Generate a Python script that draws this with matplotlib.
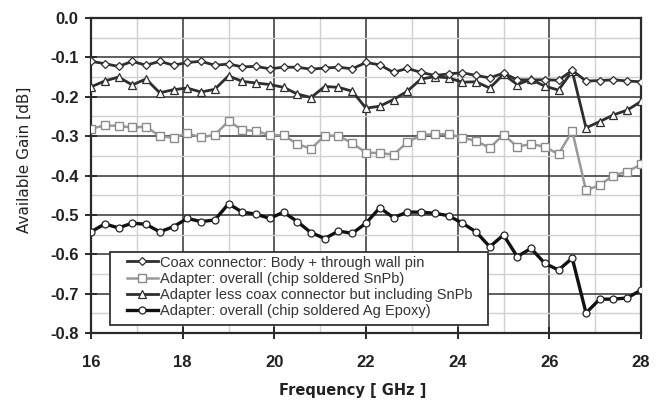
import numpy as np
import matplotlib
matplotlib.use("Agg")
import matplotlib.pyplot as plt
from matplotlib.ticker import MultipleLocator
from matplotlib.patches import Rectangle

plt.rcParams['font.family'] = ['Liberation Sans', 'DejaVu Sans']

freq = [16.0 + 0.3 * k for k in range(41)]

coax = [-0.110, -0.116, -0.123, -0.110, -0.120, -0.110, -0.120, -0.113, -0.110, -0.120,
        -0.117, -0.124, -0.123, -0.129, -0.125, -0.125, -0.130, -0.127, -0.125, -0.129,
        -0.113, -0.119, -0.138, -0.128, -0.138, -0.146, -0.142, -0.139, -0.146, -0.152,
        -0.140, -0.157, -0.157, -0.157, -0.158, -0.133, -0.160, -0.159, -0.157, -0.160,
        -0.162]

snpb = [-0.281, -0.273, -0.274, -0.278, -0.276, -0.300, -0.304, -0.293, -0.303, -0.297,
        -0.262, -0.284, -0.287, -0.297, -0.298, -0.320, -0.332, -0.299, -0.299, -0.318,
        -0.342, -0.343, -0.347, -0.316, -0.297, -0.295, -0.295, -0.304, -0.312, -0.330,
        -0.296, -0.327, -0.320, -0.327, -0.346, -0.287, -0.438, -0.424, -0.400, -0.390,
        -0.372]

less_coax = [-0.175, -0.160, -0.150, -0.170, -0.155, -0.190, -0.182, -0.178, -0.188, -0.181,
             -0.147, -0.161, -0.165, -0.169, -0.176, -0.193, -0.202, -0.174, -0.176, -0.186,
             -0.229, -0.224, -0.207, -0.186, -0.155, -0.149, -0.152, -0.163, -0.162, -0.178,
             -0.143, -0.169, -0.156, -0.173, -0.183, -0.135, -0.279, -0.263, -0.246, -0.234,
             -0.212]

epoxy = [-0.543, -0.523, -0.533, -0.521, -0.524, -0.543, -0.530, -0.509, -0.517, -0.513,
         -0.472, -0.493, -0.498, -0.509, -0.493, -0.517, -0.545, -0.560, -0.541, -0.547,
         -0.521, -0.482, -0.507, -0.493, -0.493, -0.496, -0.502, -0.521, -0.543, -0.581,
         -0.551, -0.606, -0.585, -0.623, -0.640, -0.610, -0.749, -0.714, -0.714, -0.711,
         -0.691]

labels = ["Coax connector: Body + through wall pin",
          "Adapter: overall (chip soldered SnPb)",
          "Adapter less coax connector but including SnPb",
          "Adapter: overall (chip soldered Ag Epoxy)"]

x_ticks = [16, 18, 20, 22, 24, 26, 28]
y_ticks = [0.0, -0.1, -0.2, -0.3, -0.4, -0.5, -0.6, -0.7, -0.8]

W, H = 662, 400
AX_L, AX_R, AX_T, AX_B = 91, 641, 18, 333
AW, AH = AX_R - AX_L, AX_B - AX_T

def ax_x(px):
    return (px - AX_L) / AW

def ax_y(py):
    return (AX_B - py) / AH

fig = plt.figure(figsize=(W / 100, H / 100), dpi=100)
ax = fig.add_axes([AX_L / W, 1 - AX_B / H, AW / W, AH / H])

ax.plot(freq, coax, color='#2e2e2e', lw=2.0, marker='D', ms=4.4, mfc='white',
        mec='#2e2e2e', mew=0.9, label=labels[0], zorder=5)
ax.plot(freq, snpb, color='#9a9a9a', lw=1.8, marker='s', ms=5.8, mfc='white',
        mec='#8a8a8a', mew=1.0, label=labels[1], zorder=4)
ax.plot(freq, less_coax, color='#2e2e2e', lw=2.0, marker='^', ms=6.2, mfc='white',
        mec='#2e2e2e', mew=0.9, label=labels[2], zorder=4)
ax.plot(freq, epoxy, color='#111111', lw=2.4, marker='o', ms=5.0, mfc='white',
        mec='#222222', mew=0.9, label=labels[3], zorder=5)

ax.set_xlim(16, 28)
ax.set_ylim(-0.8, 0.0)
ax.set_xticks(x_ticks)
ax.set_yticks(y_ticks)
ax.set_yticklabels([f"{v:.1f}" for v in y_ticks])
ax.xaxis.set_minor_locator(MultipleLocator(1))
ax.yaxis.set_minor_locator(MultipleLocator(0.05))

ax.grid(which='major', color='#333333', lw=1.1, zorder=0)
ax.grid(which='minor', color='#d0d0d0', lw=1.0, zorder=0)
ax.set_axisbelow(True)

for s in ax.spines.values():
    s.set_linewidth(1.6)
    s.set_color('#2a2a2a')

ax.tick_params(which='major', direction='inout', length=8, width=1.4, color='#2a2a2a',
               labelsize=12, pad=5)
ax.tick_params(axis='x', which='major', pad=12)
ax.tick_params(which='minor', length=0)
for lab in ax.get_xticklabels() + ax.get_yticklabels():
    lab.set_fontweight('bold')
    lab.set_color('#222222')

ax.set_xlabel("Frequency [ GHz ]", fontsize=10.5, fontweight='bold', color='#222222',
              family='DejaVu Sans')
ax.xaxis.set_label_coords(ax_x(353), ax_y(383))
ax.set_ylabel("Available Gain [dB]", fontsize=11, color='#222222', family='DejaVu Sans')
ax.yaxis.set_label_coords(ax_x(32), ax_y(160))

# legend box
box = Rectangle((ax_x(110), ax_y(325)), ax_x(488) - ax_x(110), ax_y(252) - ax_y(325),
                transform=ax.transAxes, facecolor='white', edgecolor='#333333',
                lw=1.3, zorder=6)
ax.add_patch(box)

leg = ax.legend(loc='upper left', bbox_to_anchor=(ax_x(127), ax_y(255.5)), fontsize=10.5,
                frameon=False, handlelength=2.1, handletextpad=0.15,
                borderpad=0.0, labelspacing=0.15, borderaxespad=0.0)
leg.set_zorder(7)
for t in leg.get_texts():
    t.set_color('#333333')

fig.savefig("out.png", dpi=100)
